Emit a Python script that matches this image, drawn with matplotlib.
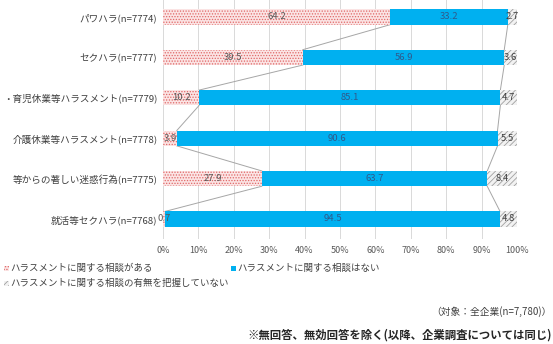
import matplotlib
matplotlib.use("Agg")
from matplotlib import pyplot as plt
from matplotlib.patches import Rectangle
import numpy as np

plt.rcParams['font.family'] = ['Noto Sans CJK JP', 'DejaVu Sans']
plt.rcParams['hatch.linewidth'] = 0.6

# labels as far as they are visible in the (cropped) original
categories = ['パワハラ(n=7774)', 'セクハラ(n=7777)',
              '・育児休業等ハラスメント(n=7779)',
              '介護休業等ハラスメント(n=7778)',
              '等からの著しい迷惑行為(n=7775)',
              '就活等セクハラ(n=7768)']
aru = [64.2, 39.5, 10.2, 3.9, 27.9, 0.7]
nai = [33.2, 56.9, 85.1, 90.6, 63.7, 94.5]
fumei = [2.7, 3.6, 4.7, 5.5, 8.4, 4.8]
series_names = ['ハラスメントに関する相談がある', 'ハラスメントに関する相談はない',
                'ハラスメントに関する相談の有無を把握していない']
note1 = '（対象：全企業(n=7,780)）'
note2 = '※無回答、無効回答を除く(以降、企業調査については同じ)'

W, H = 553, 344
fig = plt.figure(figsize=(W / 100, H / 100), dpi=100)
ax = fig.add_axes([163 / W, 1 - 239 / H, 354 / W, 239 / H])

y = np.arange(len(categories))
h = 0.38
aru = np.array(aru); nai = np.array(nai); fumei = np.array(fumei)

styles = [
    dict(facecolor='#fbe4e4', edgecolor='#e06868', hatch='......', lw=0),
    dict(facecolor='#00b0f0', edgecolor='#00b0f0', lw=0),
    dict(facecolor='#f2f2f2', edgecolor='#a0a0a0', hatch='//////', lw=0),
]
lefts = [np.zeros(len(y)), aru, aru + nai]
vals = [aru, nai, fumei]
lab_colors = ['#595959', '#2f5a8c', '#404040']
for v, l, st, lc in zip(vals, lefts, styles, lab_colors):
    ax.barh(y, v, left=l, height=h, zorder=3, **st)
    for yi, vi, li in zip(y, v, l):
        ax.text(li + vi / 2, yi, f'{vi:.1f}', ha='center', va='center',
                fontsize=6.8, color=lc, zorder=5)

# series lines
for cum in [aru, aru + nai]:
    for i in range(len(y) - 1):
        ax.plot([cum[i], cum[i + 1]], [y[i] + h / 2, y[i + 1] - h / 2],
                color='#a6a6a6', lw=0.7, zorder=2)

ax.set_xlim(0, 100)
ax.set_ylim(5.495, -0.42)
ax.set_xticks(np.arange(0, 101, 10))
ax.set_xticklabels([f'{t}%' for t in range(0, 101, 10)], fontsize=6.5, color='#595959')
ax.set_yticks(y)
ax.set_yticklabels(categories, fontsize=6.9, color='#404040')
ax.tick_params(length=0)
ax.tick_params(axis='y', pad=4)
ax.tick_params(axis='x', pad=5)
ax.grid(axis='x', color='#d9d9d9', lw=0.7, zorder=0)
for s in ax.spines.values():
    s.set_visible(False)

# legend, drawn by hand
def leg(px, py, st, text):
    fig.add_artist(Rectangle((px / W, 1 - (py + 2.5) / H), 5 / W, 5 / H,
                             transform=fig.transFigure, **st))
    fig.text((px + 6) / W, 1 - py / H, text, fontsize=6.8, color='#404040',
             va='center', ha='left')

leg(4, 268, styles[0], series_names[0])
leg(231, 268, styles[1], series_names[1])
leg(4, 283, styles[2], series_names[2])

fig.text(552 / W, 1 - 312 / H, note1, fontsize=7, color='#404040',
         ha='right', va='center')
fig.text(552 / W, 1 - 335 / H, note2, fontsize=8.2, color='#262626',
         ha='right', va='center', fontweight='bold')

fig.savefig('out.png', dpi=100)
